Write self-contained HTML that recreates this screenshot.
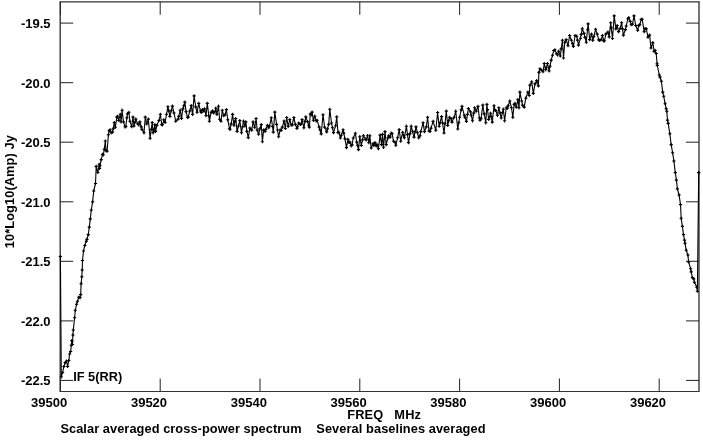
<!DOCTYPE html>
<html><head><meta charset="utf-8"><title>Scalar averaged cross-power spectrum</title>
<style>
html,body{margin:0;padding:0;background:#fff;}
svg{display:block;}
text{font-family:"Liberation Sans",sans-serif;font-weight:bold;font-size:12.8px;fill:#000;white-space:pre;}
.t{font-size:13px;}
</style></head><body>
<svg width="703" height="440" viewBox="0 0 703 440">
<rect width="703" height="440" fill="#fff"/>
<path d="M60.2 1.85H699.0M60.2 391.5H699.0" fill="none" stroke="#333" stroke-width="1.1" stroke-linecap="square"/>
<path d="M60.2 1.85V391.5M699.0 1.85V391.5" fill="none" stroke="#333" stroke-width="1.35"/>
<path d="M60.4 391.5v-13M60.4 1.85v13M160.2 391.5v-13M160.2 1.85v13M260.0 391.5v-13M260.0 1.85v13M359.8 391.5v-13M359.8 1.85v13M459.6 391.5v-13M459.6 1.85v13M559.4 391.5v-13M559.4 1.85v13M659.2 391.5v-13M659.2 1.85v13M60.2 23.1h13M699.0 23.1h-13M60.2 82.7h13M699.0 82.7h-13M60.2 142.2h13M699.0 142.2h-13M60.2 201.8h13M699.0 201.8h-13M60.2 261.3h13M699.0 261.3h-13M60.2 320.9h13M699.0 320.9h-13M60.2 380.4h13M699.0 380.4h-13" fill="none" stroke="#222" stroke-width="1"/>
<path d="M60.4 256.5 L61.3 376.8 L62.6 372.5 L63.9 366.5 L65.2 362.6 L66.5 361.0 L67.6 366.5 L68.8 360.5 L69.6 354.0 L70.6 351.5 L71.3 345.2 L71.8 340.6 L72.5 344.5 L72.9 335.0 L73.3 330.0 L74.6 317.8 L75.3 310.3 L76.6 304.2 L77.5 301.3 L78.7 297.3 L80.0 297.6 L80.7 294.6 L81.1 283.7 L81.8 276.8 L82.2 270.0 L82.5 260.5 L83.5 251.0 L84.8 245.5 L86.2 241.3 L86.9 239.4 L88.3 234.6 L89.3 227.1 L90.3 218.9 L91.3 210.0 L92.6 201.9 L93.7 191.0 L95.5 183.5 L96.2 166.4 L97.8 172.5 L99.2 164.3 L99.5 168.4 L100.0 165.7 L101.2 159.6 L102.5 154.4 L103.3 154.8 L104.3 149.2 L105.3 141.0 L106.0 150.7 L107.1 151.2 L108.4 134.8 L109.1 130.7 L110.0 129.8 L111.2 132.8 L112.5 132.1 L113.2 128.7 L114.3 122.5 L115.3 127.3 L116.9 117.1 L117.5 116.4 L118.7 120.5 L120.3 114.3 L121.1 121.9 L122.1 110.2 L123.5 121.9 L125.0 126.8 L125.8 126.6 L126.9 117.8 L127.5 113.9 L128.9 112.3 L129.9 121.2 L131.7 126.6 L133.0 117.1 L134.0 126.0 L135.0 122.1 L135.8 119.1 L137.8 123.9 L138.8 124.8 L139.9 121.9 L141.2 126.9 L141.9 129.4 L144.0 132.8 L145.3 117.1 L146.7 123.9 L148.3 119.1 L150.1 138.3 L151.2 129.5 L152.2 122.5 L153.1 132.8 L153.8 129.9 L154.9 124.6 L155.6 131.4 L156.9 125.3 L159.0 120.5 L160.4 114.3 L161.7 124.6 L162.5 124.8 L163.8 119.8 L165.1 122.5 L166.5 114.3 L167.9 106.8 L168.8 110.9 L169.9 116.4 L171.2 110.8 L172.4 106.1 L174.0 113.0 L175.7 121.2 L178.1 119.1 L178.8 116.4 L180.2 110.2 L181.5 118.4 L182.9 108.9 L183.8 105.8 L184.8 102.1 L186.1 111.6 L187.5 117.3 L188.2 117.1 L189.8 111.0 L191.2 105.5 L192.6 114.4 L194.1 95.9 L195.7 106.9 L197.1 112.3 L198.7 103.4 L200.5 111.0 L201.2 112.5 L202.5 109.6 L203.8 111.1 L204.6 108.9 L206.0 115.7 L207.3 103.4 L208.8 115.8 L209.4 121.2 L211.1 112.3 L212.5 110.9 L213.5 113.0 L215.0 111.8 L215.8 108.2 L216.9 114.4 L218.5 106.2 L219.6 119.2 L221.0 121.2 L222.3 110.3 L223.7 115.7 L225.0 114.9 L226.4 109.6 L227.8 119.8 L229.5 128.7 L230.0 129.3 L231.2 123.9 L232.6 114.4 L234.0 125.3 L235.0 121.3 L235.7 118.5 L237.1 131.4 L238.5 126.0 L239.8 120.5 L241.5 132.8 L242.5 127.0 L243.5 121.2 L244.9 126.0 L245.8 121.9 L246.9 131.4 L248.3 137.6 L249.9 128.0 L251.7 130.1 L253.1 121.9 L254.7 127.3 L256.1 118.5 L257.2 130.1 L258.6 134.2 L259.9 128.7 L261.3 124.6 L262.4 141.7 L263.6 130.1 L265.0 131.5 L265.8 129.4 L267.4 125.3 L268.8 127.7 L269.5 126.0 L271.3 117.8 L272.5 126.5 L273.3 132.1 L274.8 112.1 L276.6 124.4 L277.5 130.0 L278.6 136.7 L280.2 129.8 L281.2 130.5 L282.3 127.1 L284.1 121.0 L285.3 128.5 L286.7 117.5 L288.2 126.4 L289.8 119.6 L291.2 124.8 L292.1 125.1 L293.9 117.5 L295.3 124.4 L296.9 128.5 L297.5 126.7 L298.7 123.0 L300.3 124.4 L301.2 124.0 L302.1 119.6 L303.9 127.8 L305.0 121.4 L305.8 116.9 L307.6 121.6 L308.8 125.3 L309.3 127.1 L310.3 114.1 L311.2 114.9 L312.1 112.1 L313.4 120.3 L314.8 116.2 L316.2 120.9 L317.1 120.3 L319.2 127.1 L320.0 129.8 L321.2 133.9 L323.0 114.8 L324.6 127.1 L326.7 131.9 L327.5 128.9 L328.7 124.4 L329.8 109.3 L331.5 123.0 L332.5 127.8 L333.5 132.6 L335.6 125.7 L336.7 116.9 L338.0 132.6 L338.8 132.2 L340.4 138.0 L341.2 135.3 L343.1 129.8 L343.8 133.1 L344.9 138.7 L346.5 147.6 L347.9 139.4 L348.8 142.4 L349.9 142.1 L351.2 145.8 L352.0 144.9 L353.3 138.0 L355.4 133.3 L356.7 142.1 L357.5 145.3 L358.5 149.6 L359.8 136.7 L361.3 145.5 L362.5 139.9 L363.4 135.7 L365.5 139.2 L366.2 139.9 L367.5 135.7 L368.9 142.6 L369.8 135.7 L371.2 148.0 L373.0 143.9 L373.8 145.5 L375.0 142.6 L376.2 146.0 L377.1 144.6 L378.4 148.7 L380.1 135.1 L381.6 144.6 L382.5 134.4 L383.5 147.3 L385.0 131.6 L386.2 144.6 L388.0 137.8 L388.8 135.7 L390.1 137.1 L391.2 133.2 L392.1 133.7 L393.5 141.2 L395.0 142.1 L395.8 145.3 L397.6 137.8 L399.2 129.6 L400.7 141.2 L402.6 132.3 L403.8 135.8 L404.4 137.8 L406.4 126.2 L407.5 134.6 L408.5 142.6 L410.0 133.6 L411.2 126.2 L412.5 131.3 L414.0 137.1 L415.0 131.9 L416.0 126.9 L417.5 132.8 L418.7 137.8 L420.0 135.8 L420.8 131.6 L423.1 122.8 L424.5 131.6 L426.3 126.9 L427.6 117.3 L429.0 131.0 L430.0 131.4 L431.0 128.2 L433.1 121.4 L435.8 130.3 L437.6 112.5 L439.2 126.2 L440.0 123.0 L441.6 116.6 L442.5 122.9 L444.0 133.0 L445.0 123.7 L446.3 111.1 L447.7 125.5 L448.8 120.7 L449.5 117.3 L451.2 118.6 L452.0 122.1 L454.1 117.3 L455.7 111.2 L457.8 129.0 L458.8 122.7 L459.6 117.3 L461.2 109.9 L462.0 106.4 L464.3 115.3 L465.0 117.3 L466.4 121.4 L467.5 114.4 L468.4 108.5 L470.5 111.9 L471.2 115.2 L472.5 120.8 L473.8 113.1 L474.6 107.8 L476.2 111.2 L478.0 106.4 L479.4 118.0 L480.0 120.2 L481.1 118.7 L482.8 105.1 L484.2 113.9 L485.8 122.8 L486.9 104.4 L487.5 109.6 L488.7 119.4 L490.6 113.3 L491.2 116.6 L492.3 122.1 L494.0 105.7 L495.0 110.4 L495.8 110.5 L497.4 115.3 L498.8 107.8 L500.0 112.9 L501.2 118.0 L502.5 112.5 L503.3 109.2 L504.6 120.8 L506.3 107.8 L507.5 108.2 L508.1 105.7 L509.8 101.0 L511.5 107.8 L512.8 117.3 L514.2 104.4 L515.0 103.3 L516.3 107.1 L517.9 99.6 L519.0 107.8 L519.9 92.1 L521.7 101.0 L522.5 105.1 L524.2 107.1 L525.8 98.2 L527.9 92.1 L529.2 95.5 L529.9 85.2 L531.7 81.8 L533.3 93.4 L535.0 83.9 L536.7 80.5 L538.4 85.9 L538.9 72.4 L540.0 68.8 L540.9 69.6 L543.0 71.7 L544.3 63.5 L545.7 69.6 L546.2 67.8 L547.5 63.5 L549.1 71.0 L550.0 66.3 L551.2 60.1 L552.5 55.3 L553.8 50.5 L554.9 49.8 L556.6 53.9 L557.5 54.8 L558.7 51.2 L560.3 56.0 L561.2 48.9 L562.4 40.3 L563.5 58.0 L564.8 42.3 L566.2 39.6 L568.0 45.7 L569.6 35.5 L571.4 40.3 L572.5 43.6 L573.4 46.4 L575.1 35.5 L576.7 36.2 L577.5 40.1 L578.5 45.1 L580.5 38.2 L581.2 34.4 L582.3 28.7 L584.0 33.4 L585.0 37.4 L586.3 42.3 L587.5 29.7 L588.1 23.9 L589.7 39.6 L591.5 34.1 L592.8 40.3 L593.8 36.6 L595.6 29.3 L597.2 34.1 L598.8 39.9 L599.7 40.3 L601.2 39.7 L602.4 35.5 L603.8 40.9 L604.5 41.0 L605.8 34.1 L607.9 32.1 L609.2 36.9 L610.7 22.8 L611.2 27.7 L612.5 38.5 L614.2 15.9 L615.9 28.9 L617.2 25.5 L618.6 31.6 L620.3 28.2 L621.6 22.8 L622.5 28.9 L623.4 35.1 L625.4 29.6 L626.2 26.0 L627.9 18.7 L628.8 17.7 L630.2 21.4 L631.2 24.7 L632.5 24.1 L634.0 15.9 L635.7 25.5 L637.7 30.3 L638.8 25.4 L639.8 24.8 L641.2 19.4 L642.2 19.3 L644.2 31.6 L645.0 28.6 L646.3 28.9 L648.0 37.1 L649.6 35.1 L651.0 48.0 L652.8 42.6 L654.1 51.4 L655.0 50.4 L656.2 53.5 L657.1 63.7 L657.3 65.5 L659.3 75.0 L660.0 77.1 L661.4 81.2 L662.7 92.1 L663.7 96.2 L665.1 103.7 L666.2 108.8 L666.8 111.2 L667.5 120.1 L668.2 123.4 L669.8 133.7 L671.2 144.6 L672.6 152.8 L673.9 161.0 L675.3 172.6 L676.4 180.1 L677.4 188.9 L679.1 195.0 L680.5 204.6 L681.2 218.3 L682.4 226.4 L683.5 234.6 L684.5 240.1 L685.0 243.2 L686.2 250.2 L687.9 255.0 L688.6 261.9 L690.6 268.7 L691.2 271.9 L692.4 277.6 L693.8 278.9 L694.4 282.3 L696.8 287.1 L697.4 291.2 L698.7 172.6" fill="none" stroke="#000" stroke-width="1.1" stroke-linejoin="round"/>
<path d="M58.8 256.5h3.2M60.4 254.9v3.2M59.7 376.8h3.2M61.3 375.2v3.2M61.0 372.5h3.2M62.6 370.9v3.2M62.3 366.5h3.2M63.9 364.9v3.2M63.6 362.6h3.2M65.2 361.0v3.2M64.9 361.0h3.2M66.5 359.4v3.2M66.0 366.5h3.2M67.6 364.9v3.2M67.2 360.5h3.2M68.8 358.9v3.2M68.0 354.0h3.2M69.6 352.4v3.2M69.0 351.5h3.2M70.6 349.9v3.2M69.7 345.2h3.2M71.3 343.6v3.2M70.2 340.6h3.2M71.8 339.0v3.2M70.9 344.5h3.2M72.5 342.9v3.2M71.3 335.0h3.2M72.9 333.4v3.2M71.7 330.0h3.2M73.3 328.4v3.2M73.0 317.8h3.2M74.6 316.2v3.2M73.7 310.3h3.2M75.3 308.7v3.2M75.0 304.2h3.2M76.6 302.6v3.2M75.9 301.3h3.2M77.5 299.7v3.2M77.1 297.3h3.2M78.7 295.7v3.2M78.4 297.6h3.2M80.0 296.0v3.2M79.1 294.6h3.2M80.7 293.0v3.2M79.5 283.7h3.2M81.1 282.1v3.2M80.2 276.8h3.2M81.8 275.2v3.2M80.6 270.0h3.2M82.2 268.4v3.2M80.9 260.5h3.2M82.5 258.9v3.2M81.9 251.0h3.2M83.5 249.4v3.2M83.2 245.5h3.2M84.8 243.9v3.2M84.7 241.3h3.2M86.2 239.7v3.2M85.3 239.4h3.2M86.9 237.8v3.2M86.7 234.6h3.2M88.3 233.0v3.2M87.7 227.1h3.2M89.3 225.5v3.2M88.7 218.9h3.2M90.3 217.3v3.2M89.7 210.0h3.2M91.3 208.4v3.2M91.0 201.9h3.2M92.6 200.3v3.2M92.1 191.0h3.2M93.7 189.4v3.2M93.9 183.5h3.2M95.5 181.9v3.2M94.6 166.4h3.2M96.2 164.8v3.2M96.2 172.5h3.2M97.8 170.9v3.2M97.6 164.3h3.2M99.2 162.7v3.2M97.9 168.4h3.2M99.5 166.8v3.2M98.4 165.7h3.2M100.0 164.1v3.2M99.6 159.6h3.2M101.2 158.0v3.2M100.9 154.4h3.2M102.5 152.8v3.2M101.7 154.8h3.2M103.3 153.2v3.2M102.7 149.2h3.2M104.3 147.6v3.2M103.7 141.0h3.2M105.3 139.4v3.2M104.4 150.7h3.2M106.0 149.1v3.2M105.5 151.2h3.2M107.1 149.6v3.2M106.8 134.8h3.2M108.4 133.2v3.2M107.5 130.7h3.2M109.1 129.1v3.2M108.4 129.8h3.2M110.0 128.2v3.2M109.6 132.8h3.2M111.2 131.2v3.2M110.9 132.1h3.2M112.5 130.5v3.2M111.6 128.7h3.2M113.2 127.1v3.2M112.7 122.5h3.2M114.3 120.9v3.2M113.7 127.3h3.2M115.3 125.7v3.2M115.3 117.1h3.2M116.9 115.5v3.2M115.9 116.4h3.2M117.5 114.8v3.2M117.1 120.5h3.2M118.7 118.9v3.2M118.7 114.3h3.2M120.3 112.7v3.2M119.5 121.9h3.2M121.1 120.3v3.2M120.5 110.2h3.2M122.1 108.6v3.2M121.9 121.9h3.2M123.5 120.3v3.2M123.4 126.8h3.2M125.0 125.2v3.2M124.2 126.6h3.2M125.8 125.0v3.2M125.3 117.8h3.2M126.9 116.2v3.2M125.9 113.9h3.2M127.5 112.3v3.2M127.3 112.3h3.2M128.9 110.7v3.2M128.3 121.2h3.2M129.9 119.6v3.2M130.1 126.6h3.2M131.7 125.0v3.2M131.4 117.1h3.2M133.0 115.5v3.2M132.4 126.0h3.2M134.0 124.4v3.2M133.4 122.1h3.2M135.0 120.5v3.2M134.2 119.1h3.2M135.8 117.5v3.2M136.2 123.9h3.2M137.8 122.3v3.2M137.2 124.8h3.2M138.8 123.2v3.2M138.3 121.9h3.2M139.9 120.3v3.2M139.7 126.9h3.2M141.2 125.3v3.2M140.3 129.4h3.2M141.9 127.8v3.2M142.4 132.8h3.2M144.0 131.2v3.2M143.7 117.1h3.2M145.3 115.5v3.2M145.1 123.9h3.2M146.7 122.3v3.2M146.7 119.1h3.2M148.3 117.5v3.2M148.5 138.3h3.2M150.1 136.7v3.2M149.7 129.5h3.2M151.2 127.9v3.2M150.6 122.5h3.2M152.2 120.9v3.2M151.5 132.8h3.2M153.1 131.2v3.2M152.2 129.9h3.2M153.8 128.3v3.2M153.3 124.6h3.2M154.9 123.0v3.2M154.0 131.4h3.2M155.6 129.8v3.2M155.3 125.3h3.2M156.9 123.7v3.2M157.4 120.5h3.2M159.0 118.9v3.2M158.8 114.3h3.2M160.4 112.7v3.2M160.1 124.6h3.2M161.7 123.0v3.2M160.9 124.8h3.2M162.5 123.2v3.2M162.2 119.8h3.2M163.8 118.2v3.2M163.5 122.5h3.2M165.1 120.9v3.2M164.9 114.3h3.2M166.5 112.7v3.2M166.3 106.8h3.2M167.9 105.2v3.2M167.2 110.9h3.2M168.8 109.3v3.2M168.3 116.4h3.2M169.9 114.8v3.2M169.7 110.8h3.2M171.2 109.2v3.2M170.8 106.1h3.2M172.4 104.5v3.2M172.4 113.0h3.2M174.0 111.4v3.2M174.1 121.2h3.2M175.7 119.6v3.2M176.5 119.1h3.2M178.1 117.5v3.2M177.2 116.4h3.2M178.8 114.8v3.2M178.6 110.2h3.2M180.2 108.6v3.2M179.9 118.4h3.2M181.5 116.8v3.2M181.3 108.9h3.2M182.9 107.3v3.2M182.2 105.8h3.2M183.8 104.2v3.2M183.2 102.1h3.2M184.8 100.5v3.2M184.5 111.6h3.2M186.1 110.0v3.2M185.9 117.3h3.2M187.5 115.7v3.2M186.6 117.1h3.2M188.2 115.5v3.2M188.2 111.0h3.2M189.8 109.4v3.2M189.6 105.5h3.2M191.2 103.9v3.2M191.0 114.4h3.2M192.6 112.8v3.2M192.5 95.9h3.2M194.1 94.3v3.2M194.1 106.9h3.2M195.7 105.3v3.2M195.5 112.3h3.2M197.1 110.7v3.2M197.1 103.4h3.2M198.7 101.8v3.2M198.9 111.0h3.2M200.5 109.4v3.2M199.7 112.5h3.2M201.2 110.9v3.2M200.9 109.6h3.2M202.5 108.0v3.2M202.2 111.1h3.2M203.8 109.5v3.2M203.0 108.9h3.2M204.6 107.3v3.2M204.4 115.7h3.2M206.0 114.1v3.2M205.7 103.4h3.2M207.3 101.8v3.2M207.2 115.8h3.2M208.8 114.2v3.2M207.8 121.2h3.2M209.4 119.6v3.2M209.5 112.3h3.2M211.1 110.7v3.2M210.9 110.9h3.2M212.5 109.3v3.2M211.9 113.0h3.2M213.5 111.4v3.2M213.4 111.8h3.2M215.0 110.2v3.2M214.2 108.2h3.2M215.8 106.6v3.2M215.3 114.4h3.2M216.9 112.8v3.2M216.9 106.2h3.2M218.5 104.6v3.2M218.0 119.2h3.2M219.6 117.6v3.2M219.4 121.2h3.2M221.0 119.6v3.2M220.7 110.3h3.2M222.3 108.7v3.2M222.1 115.7h3.2M223.7 114.1v3.2M223.4 114.9h3.2M225.0 113.3v3.2M224.8 109.6h3.2M226.4 108.0v3.2M226.2 119.8h3.2M227.8 118.2v3.2M227.9 128.7h3.2M229.5 127.1v3.2M228.4 129.3h3.2M230.0 127.7v3.2M229.6 123.9h3.2M231.2 122.3v3.2M231.0 114.4h3.2M232.6 112.8v3.2M232.4 125.3h3.2M234.0 123.7v3.2M233.4 121.3h3.2M235.0 119.7v3.2M234.1 118.5h3.2M235.7 116.9v3.2M235.5 131.4h3.2M237.1 129.8v3.2M236.9 126.0h3.2M238.5 124.4v3.2M238.2 120.5h3.2M239.8 118.9v3.2M239.9 132.8h3.2M241.5 131.2v3.2M240.9 127.0h3.2M242.5 125.4v3.2M241.9 121.2h3.2M243.5 119.6v3.2M243.3 126.0h3.2M244.9 124.4v3.2M244.2 121.9h3.2M245.8 120.3v3.2M245.3 131.4h3.2M246.9 129.8v3.2M246.7 137.6h3.2M248.3 136.0v3.2M248.3 128.0h3.2M249.9 126.4v3.2M250.1 130.1h3.2M251.7 128.5v3.2M251.5 121.9h3.2M253.1 120.3v3.2M253.1 127.3h3.2M254.7 125.7v3.2M254.5 118.5h3.2M256.1 116.9v3.2M255.6 130.1h3.2M257.2 128.5v3.2M257.0 134.2h3.2M258.6 132.6v3.2M258.3 128.7h3.2M259.9 127.1v3.2M259.7 124.6h3.2M261.3 123.0v3.2M260.8 141.7h3.2M262.4 140.1v3.2M262.0 130.1h3.2M263.6 128.5v3.2M263.4 131.5h3.2M265.0 129.9v3.2M264.2 129.4h3.2M265.8 127.8v3.2M265.8 125.3h3.2M267.4 123.7v3.2M267.1 127.7h3.2M268.8 126.1v3.2M267.9 126.0h3.2M269.5 124.4v3.2M269.7 117.8h3.2M271.3 116.2v3.2M270.9 126.5h3.2M272.5 124.9v3.2M271.7 132.1h3.2M273.3 130.5v3.2M273.2 112.1h3.2M274.8 110.5v3.2M275.0 124.4h3.2M276.6 122.8v3.2M275.9 130.0h3.2M277.5 128.4v3.2M277.0 136.7h3.2M278.6 135.1v3.2M278.6 129.8h3.2M280.2 128.2v3.2M279.6 130.5h3.2M281.2 128.9v3.2M280.7 127.1h3.2M282.3 125.5v3.2M282.5 121.0h3.2M284.1 119.4v3.2M283.7 128.5h3.2M285.3 126.9v3.2M285.1 117.5h3.2M286.7 115.9v3.2M286.6 126.4h3.2M288.2 124.8v3.2M288.2 119.6h3.2M289.8 118.0v3.2M289.6 124.8h3.2M291.2 123.2v3.2M290.5 125.1h3.2M292.1 123.5v3.2M292.3 117.5h3.2M293.9 115.9v3.2M293.7 124.4h3.2M295.3 122.8v3.2M295.3 128.5h3.2M296.9 126.9v3.2M295.9 126.7h3.2M297.5 125.1v3.2M297.1 123.0h3.2M298.7 121.4v3.2M298.7 124.4h3.2M300.3 122.8v3.2M299.6 124.0h3.2M301.2 122.4v3.2M300.5 119.6h3.2M302.1 118.0v3.2M302.3 127.8h3.2M303.9 126.2v3.2M303.4 121.4h3.2M305.0 119.8v3.2M304.2 116.9h3.2M305.8 115.3v3.2M306.0 121.6h3.2M307.6 120.0v3.2M307.1 125.3h3.2M308.8 123.7v3.2M307.7 127.1h3.2M309.3 125.5v3.2M308.7 114.1h3.2M310.3 112.5v3.2M309.6 114.9h3.2M311.2 113.3v3.2M310.5 112.1h3.2M312.1 110.5v3.2M311.8 120.3h3.2M313.4 118.7v3.2M313.2 116.2h3.2M314.8 114.6v3.2M314.6 120.9h3.2M316.2 119.3v3.2M315.5 120.3h3.2M317.1 118.7v3.2M317.6 127.1h3.2M319.2 125.5v3.2M318.4 129.8h3.2M320.0 128.2v3.2M319.6 133.9h3.2M321.2 132.3v3.2M321.4 114.8h3.2M323.0 113.2v3.2M323.0 127.1h3.2M324.6 125.5v3.2M325.1 131.9h3.2M326.7 130.3v3.2M325.9 128.9h3.2M327.5 127.3v3.2M327.1 124.4h3.2M328.7 122.8v3.2M328.2 109.3h3.2M329.8 107.7v3.2M329.9 123.0h3.2M331.5 121.4v3.2M330.9 127.8h3.2M332.5 126.2v3.2M331.9 132.6h3.2M333.5 131.0v3.2M334.0 125.7h3.2M335.6 124.1v3.2M335.1 116.9h3.2M336.7 115.3v3.2M336.4 132.6h3.2M338.0 131.0v3.2M337.1 132.2h3.2M338.8 130.6v3.2M338.8 138.0h3.2M340.4 136.4v3.2M339.6 135.3h3.2M341.2 133.7v3.2M341.5 129.8h3.2M343.1 128.2v3.2M342.1 133.1h3.2M343.8 131.5v3.2M343.3 138.7h3.2M344.9 137.1v3.2M344.9 147.6h3.2M346.5 146.0v3.2M346.3 139.4h3.2M347.9 137.8v3.2M347.1 142.4h3.2M348.8 140.8v3.2M348.3 142.1h3.2M349.9 140.5v3.2M349.6 145.8h3.2M351.2 144.2v3.2M350.4 144.9h3.2M352.0 143.3v3.2M351.7 138.0h3.2M353.3 136.4v3.2M353.8 133.3h3.2M355.4 131.7v3.2M355.1 142.1h3.2M356.7 140.5v3.2M355.9 145.3h3.2M357.5 143.7v3.2M356.9 149.6h3.2M358.5 148.0v3.2M358.2 136.7h3.2M359.8 135.1v3.2M359.7 145.5h3.2M361.3 143.9v3.2M360.9 139.9h3.2M362.5 138.3v3.2M361.8 135.7h3.2M363.4 134.1v3.2M363.9 139.2h3.2M365.5 137.6v3.2M364.6 139.9h3.2M366.2 138.3v3.2M365.9 135.7h3.2M367.5 134.1v3.2M367.3 142.6h3.2M368.9 141.0v3.2M368.2 135.7h3.2M369.8 134.1v3.2M369.6 148.0h3.2M371.2 146.4v3.2M371.4 143.9h3.2M373.0 142.3v3.2M372.1 145.5h3.2M373.8 143.9v3.2M373.4 142.6h3.2M375.0 141.0v3.2M374.6 146.0h3.2M376.2 144.4v3.2M375.5 144.6h3.2M377.1 143.0v3.2M376.8 148.7h3.2M378.4 147.1v3.2M378.5 135.1h3.2M380.1 133.5v3.2M380.0 144.6h3.2M381.6 143.0v3.2M380.9 134.4h3.2M382.5 132.8v3.2M381.9 147.3h3.2M383.5 145.7v3.2M383.4 131.6h3.2M385.0 130.0v3.2M384.6 144.6h3.2M386.2 143.0v3.2M386.4 137.8h3.2M388.0 136.2v3.2M387.1 135.7h3.2M388.8 134.1v3.2M388.5 137.1h3.2M390.1 135.5v3.2M389.6 133.2h3.2M391.2 131.6v3.2M390.5 133.7h3.2M392.1 132.1v3.2M391.9 141.2h3.2M393.5 139.6v3.2M393.4 142.1h3.2M395.0 140.5v3.2M394.2 145.3h3.2M395.8 143.7v3.2M396.0 137.8h3.2M397.6 136.2v3.2M397.6 129.6h3.2M399.2 128.0v3.2M399.1 141.2h3.2M400.7 139.6v3.2M401.0 132.3h3.2M402.6 130.7v3.2M402.1 135.8h3.2M403.8 134.2v3.2M402.8 137.8h3.2M404.4 136.2v3.2M404.8 126.2h3.2M406.4 124.6v3.2M405.9 134.6h3.2M407.5 133.0v3.2M406.9 142.6h3.2M408.5 141.0v3.2M408.4 133.6h3.2M410.0 132.0v3.2M409.6 126.2h3.2M411.2 124.6v3.2M410.9 131.3h3.2M412.5 129.7v3.2M412.4 137.1h3.2M414.0 135.5v3.2M413.4 131.9h3.2M415.0 130.3v3.2M414.4 126.9h3.2M416.0 125.3v3.2M415.9 132.8h3.2M417.5 131.2v3.2M417.1 137.8h3.2M418.7 136.2v3.2M418.4 135.8h3.2M420.0 134.2v3.2M419.2 131.6h3.2M420.8 130.0v3.2M421.5 122.8h3.2M423.1 121.2v3.2M422.9 131.6h3.2M424.5 130.0v3.2M424.7 126.9h3.2M426.3 125.3v3.2M426.0 117.3h3.2M427.6 115.7v3.2M427.4 131.0h3.2M429.0 129.4v3.2M428.4 131.4h3.2M430.0 129.8v3.2M429.4 128.2h3.2M431.0 126.6v3.2M431.5 121.4h3.2M433.1 119.8v3.2M434.2 130.3h3.2M435.8 128.7v3.2M436.0 112.5h3.2M437.6 110.9v3.2M437.6 126.2h3.2M439.2 124.6v3.2M438.4 123.0h3.2M440.0 121.4v3.2M440.0 116.6h3.2M441.6 115.0v3.2M440.9 122.9h3.2M442.5 121.3v3.2M442.4 133.0h3.2M444.0 131.4v3.2M443.4 123.7h3.2M445.0 122.1v3.2M444.7 111.1h3.2M446.3 109.5v3.2M446.1 125.5h3.2M447.7 123.9v3.2M447.1 120.7h3.2M448.8 119.1v3.2M447.9 117.3h3.2M449.5 115.7v3.2M449.6 118.6h3.2M451.2 117.0v3.2M450.4 122.1h3.2M452.0 120.5v3.2M452.5 117.3h3.2M454.1 115.7v3.2M454.1 111.2h3.2M455.7 109.6v3.2M456.2 129.0h3.2M457.8 127.4v3.2M457.1 122.7h3.2M458.8 121.1v3.2M458.0 117.3h3.2M459.6 115.7v3.2M459.6 109.9h3.2M461.2 108.3v3.2M460.4 106.4h3.2M462.0 104.8v3.2M462.7 115.3h3.2M464.3 113.7v3.2M463.4 117.3h3.2M465.0 115.7v3.2M464.8 121.4h3.2M466.4 119.8v3.2M465.9 114.4h3.2M467.5 112.8v3.2M466.8 108.5h3.2M468.4 106.9v3.2M468.9 111.9h3.2M470.5 110.3v3.2M469.6 115.2h3.2M471.2 113.6v3.2M470.9 120.8h3.2M472.5 119.2v3.2M472.1 113.1h3.2M473.8 111.5v3.2M473.0 107.8h3.2M474.6 106.2v3.2M474.6 111.2h3.2M476.2 109.6v3.2M476.4 106.4h3.2M478.0 104.8v3.2M477.8 118.0h3.2M479.4 116.4v3.2M478.4 120.2h3.2M480.0 118.6v3.2M479.5 118.7h3.2M481.1 117.1v3.2M481.2 105.1h3.2M482.8 103.5v3.2M482.6 113.9h3.2M484.2 112.3v3.2M484.2 122.8h3.2M485.8 121.2v3.2M485.3 104.4h3.2M486.9 102.8v3.2M485.9 109.6h3.2M487.5 108.0v3.2M487.1 119.4h3.2M488.7 117.8v3.2M489.0 113.3h3.2M490.6 111.7v3.2M489.6 116.6h3.2M491.2 115.0v3.2M490.7 122.1h3.2M492.3 120.5v3.2M492.4 105.7h3.2M494.0 104.1v3.2M493.4 110.4h3.2M495.0 108.8v3.2M494.2 110.5h3.2M495.8 108.9v3.2M495.8 115.3h3.2M497.4 113.7v3.2M497.2 107.8h3.2M498.8 106.2v3.2M498.4 112.9h3.2M500.0 111.3v3.2M499.6 118.0h3.2M501.2 116.4v3.2M500.9 112.5h3.2M502.5 110.9v3.2M501.7 109.2h3.2M503.3 107.6v3.2M503.0 120.8h3.2M504.6 119.2v3.2M504.7 107.8h3.2M506.3 106.2v3.2M505.9 108.2h3.2M507.5 106.6v3.2M506.5 105.7h3.2M508.1 104.1v3.2M508.2 101.0h3.2M509.8 99.4v3.2M509.9 107.8h3.2M511.5 106.2v3.2M511.2 117.3h3.2M512.8 115.7v3.2M512.6 104.4h3.2M514.2 102.8v3.2M513.4 103.3h3.2M515.0 101.7v3.2M514.7 107.1h3.2M516.3 105.5v3.2M516.3 99.6h3.2M517.9 98.0v3.2M517.4 107.8h3.2M519.0 106.2v3.2M518.3 92.1h3.2M519.9 90.5v3.2M520.1 101.0h3.2M521.7 99.4v3.2M520.9 105.1h3.2M522.5 103.5v3.2M522.6 107.1h3.2M524.2 105.5v3.2M524.2 98.2h3.2M525.8 96.6v3.2M526.3 92.1h3.2M527.9 90.5v3.2M527.6 95.5h3.2M529.2 93.9v3.2M528.3 85.2h3.2M529.9 83.6v3.2M530.1 81.8h3.2M531.7 80.2v3.2M531.7 93.4h3.2M533.3 91.8v3.2M533.4 83.9h3.2M535.0 82.3v3.2M535.1 80.5h3.2M536.7 78.9v3.2M536.8 85.9h3.2M538.4 84.3v3.2M537.3 72.4h3.2M538.9 70.8v3.2M538.4 68.8h3.2M540.0 67.2v3.2M539.3 69.6h3.2M540.9 68.0v3.2M541.4 71.7h3.2M543.0 70.1v3.2M542.7 63.5h3.2M544.3 61.9v3.2M544.1 69.6h3.2M545.7 68.0v3.2M544.6 67.8h3.2M546.2 66.2v3.2M545.9 63.5h3.2M547.5 61.9v3.2M547.5 71.0h3.2M549.1 69.4v3.2M548.4 66.3h3.2M550.0 64.7v3.2M549.6 60.1h3.2M551.2 58.5v3.2M550.9 55.3h3.2M552.5 53.7v3.2M552.1 50.5h3.2M553.8 48.9v3.2M553.3 49.8h3.2M554.9 48.2v3.2M555.0 53.9h3.2M556.6 52.3v3.2M555.9 54.8h3.2M557.5 53.2v3.2M557.1 51.2h3.2M558.7 49.6v3.2M558.7 56.0h3.2M560.3 54.4v3.2M559.6 48.9h3.2M561.2 47.3v3.2M560.8 40.3h3.2M562.4 38.7v3.2M561.9 58.0h3.2M563.5 56.4v3.2M563.2 42.3h3.2M564.8 40.7v3.2M564.6 39.6h3.2M566.2 38.0v3.2M566.4 45.7h3.2M568.0 44.1v3.2M568.0 35.5h3.2M569.6 33.9v3.2M569.8 40.3h3.2M571.4 38.7v3.2M570.9 43.6h3.2M572.5 42.0v3.2M571.8 46.4h3.2M573.4 44.8v3.2M573.5 35.5h3.2M575.1 33.9v3.2M575.1 36.2h3.2M576.7 34.6v3.2M575.9 40.1h3.2M577.5 38.5v3.2M576.9 45.1h3.2M578.5 43.5v3.2M578.9 38.2h3.2M580.5 36.6v3.2M579.6 34.4h3.2M581.2 32.8v3.2M580.7 28.7h3.2M582.3 27.1v3.2M582.4 33.4h3.2M584.0 31.8v3.2M583.4 37.4h3.2M585.0 35.8v3.2M584.7 42.3h3.2M586.3 40.7v3.2M585.9 29.7h3.2M587.5 28.1v3.2M586.5 23.9h3.2M588.1 22.3v3.2M588.1 39.6h3.2M589.7 38.0v3.2M589.9 34.1h3.2M591.5 32.5v3.2M591.2 40.3h3.2M592.8 38.7v3.2M592.1 36.6h3.2M593.8 35.0v3.2M594.0 29.3h3.2M595.6 27.7v3.2M595.6 34.1h3.2M597.2 32.5v3.2M597.1 39.9h3.2M598.8 38.3v3.2M598.1 40.3h3.2M599.7 38.7v3.2M599.6 39.7h3.2M601.2 38.1v3.2M600.8 35.5h3.2M602.4 33.9v3.2M602.1 40.9h3.2M603.8 39.3v3.2M602.9 41.0h3.2M604.5 39.4v3.2M604.2 34.1h3.2M605.8 32.5v3.2M606.3 32.1h3.2M607.9 30.5v3.2M607.6 36.9h3.2M609.2 35.3v3.2M609.1 22.8h3.2M610.7 21.2v3.2M609.6 27.7h3.2M611.2 26.1v3.2M610.9 38.5h3.2M612.5 36.9v3.2M612.6 15.9h3.2M614.2 14.3v3.2M614.3 28.9h3.2M615.9 27.3v3.2M615.6 25.5h3.2M617.2 23.9v3.2M617.0 31.6h3.2M618.6 30.0v3.2M618.7 28.2h3.2M620.3 26.6v3.2M620.0 22.8h3.2M621.6 21.2v3.2M620.9 28.9h3.2M622.5 27.3v3.2M621.8 35.1h3.2M623.4 33.5v3.2M623.8 29.6h3.2M625.4 28.0v3.2M624.6 26.0h3.2M626.2 24.4v3.2M626.3 18.7h3.2M627.9 17.1v3.2M627.1 17.7h3.2M628.8 16.1v3.2M628.6 21.4h3.2M630.2 19.8v3.2M629.6 24.7h3.2M631.2 23.1v3.2M630.9 24.1h3.2M632.5 22.5v3.2M632.4 15.9h3.2M634.0 14.3v3.2M634.1 25.5h3.2M635.7 23.9v3.2M636.1 30.3h3.2M637.7 28.7v3.2M637.1 25.4h3.2M638.8 23.8v3.2M638.2 24.8h3.2M639.8 23.2v3.2M639.6 19.4h3.2M641.2 17.8v3.2M640.6 19.3h3.2M642.2 17.7v3.2M642.6 31.6h3.2M644.2 30.0v3.2M643.4 28.6h3.2M645.0 27.0v3.2M644.7 28.9h3.2M646.3 27.3v3.2M646.4 37.1h3.2M648.0 35.5v3.2M648.0 35.1h3.2M649.6 33.5v3.2M649.4 48.0h3.2M651.0 46.4v3.2M651.2 42.6h3.2M652.8 41.0v3.2M652.5 51.4h3.2M654.1 49.8v3.2M653.4 50.4h3.2M655.0 48.8v3.2M654.6 53.5h3.2M656.2 51.9v3.2M655.5 63.7h3.2M657.1 62.1v3.2M655.7 65.5h3.2M657.3 63.9v3.2M657.7 75.0h3.2M659.3 73.4v3.2M658.4 77.1h3.2M660.0 75.5v3.2M659.8 81.2h3.2M661.4 79.6v3.2M661.1 92.1h3.2M662.7 90.5v3.2M662.1 96.2h3.2M663.7 94.6v3.2M663.5 103.7h3.2M665.1 102.1v3.2M664.6 108.8h3.2M666.2 107.2v3.2M665.2 111.2h3.2M666.8 109.6v3.2M665.9 120.1h3.2M667.5 118.5v3.2M666.6 123.4h3.2M668.2 121.8v3.2M668.2 133.7h3.2M669.8 132.1v3.2M669.6 144.6h3.2M671.2 143.0v3.2M671.0 152.8h3.2M672.6 151.2v3.2M672.3 161.0h3.2M673.9 159.4v3.2M673.7 172.6h3.2M675.3 171.0v3.2M674.8 180.1h3.2M676.4 178.5v3.2M675.8 188.9h3.2M677.4 187.3v3.2M677.5 195.0h3.2M679.1 193.4v3.2M678.9 204.6h3.2M680.5 203.0v3.2M679.6 218.3h3.2M681.2 216.7v3.2M680.8 226.4h3.2M682.4 224.8v3.2M681.9 234.6h3.2M683.5 233.0v3.2M682.9 240.1h3.2M684.5 238.5v3.2M683.4 243.2h3.2M685.0 241.6v3.2M684.6 250.2h3.2M686.2 248.6v3.2M686.3 255.0h3.2M687.9 253.4v3.2M687.0 261.9h3.2M688.6 260.3v3.2M689.0 268.7h3.2M690.6 267.1v3.2M689.6 271.9h3.2M691.2 270.3v3.2M690.8 277.6h3.2M692.4 276.0v3.2M692.1 278.9h3.2M693.8 277.3v3.2M692.8 282.3h3.2M694.4 280.7v3.2M695.2 287.1h3.2M696.8 285.5v3.2M695.8 291.2h3.2M697.4 289.6v3.2M697.1 172.6h3.2M698.7 171.0v3.2" fill="none" stroke="#000" stroke-width="1.1"/>
<text x="49.2" y="406.9" text-anchor="middle" class="t">39500</text><text x="149.0" y="406.9" text-anchor="middle" class="t">39520</text><text x="248.8" y="406.9" text-anchor="middle" class="t">39540</text><text x="348.6" y="406.9" text-anchor="middle" class="t">39560</text><text x="448.4" y="406.9" text-anchor="middle" class="t">39580</text><text x="548.2" y="406.9" text-anchor="middle" class="t">39600</text><text x="648.0" y="406.9" text-anchor="middle" class="t">39620</text><text x="50.6" y="27.6" text-anchor="end" class="t">-19.5</text><text x="50.6" y="87.7" text-anchor="end" class="t">-20.0</text><text x="50.6" y="146.6" text-anchor="end" class="t">-20.5</text><text x="50.6" y="206.9" text-anchor="end" class="t">-21.0</text><text x="50.6" y="265.7" text-anchor="end" class="t">-21.5</text><text x="50.6" y="325.6" text-anchor="end" class="t">-22.0</text><text x="50.6" y="385.0" text-anchor="end" class="t">-22.5</text>
<text x="73.2" y="380.9">IF 5(RR)</text>
<text x="347.3" y="418.6" textLength="73.6">FREQ   MHz</text>
<text x="60.4" y="432.8" textLength="241.2">Scalar averaged cross-power spectrum</text><text x="316.3" y="432.8" textLength="169.2">Several baselines averaged</text>
<text transform="translate(14 248.2) rotate(-90)" textLength="113">10*Log10(Amp) Jy</text>
</svg>
</body></html>
